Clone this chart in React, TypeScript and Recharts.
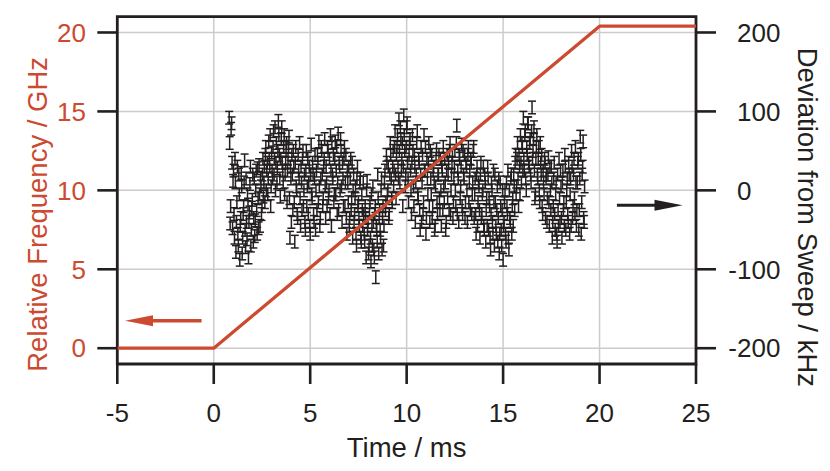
import React from 'react';
import {
  ComposedChart,
  Line,
  Scatter,
  ErrorBar,
  XAxis,
  YAxis,
  CartesianGrid,
  ReferenceLine,
  ReferenceArea,
} from 'recharts';

const RED = '#cc4a30';
const INK = '#231f20';
const GRID = '#cccccc';
const FONT = '"Liberation Sans", Arial, Helvetica, sans-serif';

// Axis ticks
const TIME_TICKS = [-5, 0, 5, 10, 15, 20, 25];
const FREQ_TICKS = [0, 5, 10, 15, 20];
const DEV_TICKS = [-200, -100, 0, 100, 200];

// Frequency sweep (left axis, GHz)
const sweepTimeMs = [-5, 0, 20, 25];
const sweepFreqGHz = [0, 0, 20.4, 20.4];

// Deviation from sweep (right axis, kHz), two interleaved sample sets, every 0.05 ms
const SAMPLE_STEP_MS = 0.05;
const SET_A_START_MS = 0.8;
const deviationKHzA = [
  92, -42, 78, 35, 12, -30, 40, -78, -15, -55, 20, -88, -35, 5, -60, -20, 38, -72, -40, -5,
  -85, -28, 30, -50, -12, -65, 15, -38, 25, -55, -10, 32, -45, 5, -20, 40, 10, -15, 55, 25,
  -5, 62, 30, -20, 48, 15, 75, 40, 0, 60, 28, 88, 45, -8, 65, 35, 10, 70, 20, 50,
  -15, 40, 68, -60, 15, 45, -25, 30, -65, 55, 0, -35, 25, 60, -45, 10, 40, -20, 20, -50,
  50, 5, -30, 30, -55, 58, -10, 20, -40, 45, 0, -25, 35, 62, -45, 15, 50, -20, 30, 65,
  -35, 10, 55, -10, 40, 70, -45, 20, 45, -5, 62, 25, -30, 72, 35, 0, 50, -40, 15, 40,
  -20, 45, -55, 10, 30, -35, 40, -10, -60, 20, -30, 5, -70, 30, -15, -45, 15, -65, -25, 10,
  -55, -20, -85, 12, -40, -70, -15, -90, -45, 5, -75, -30, -110, -50, 20, -80, -25, -60, 15, -35,
  -70, 10, -25, 45, -5, 30, -30, 60, 15, -15, 50, 25, 75, -10, 55, 30, 90, 10, 65, 40,
  -20, 95, 50, 20, 80, 35, -15, 60, 25, -30, 70, 5, 45, -40, 20, 75, -10, 35, -50, 55,
  10, -30, 70, 25, -55, 40, -5, 60, -40, 15, 45, -20, 30, -50, 5, 52, -30, 20, -10, 40,
  -45, 25, 55, -15, 10, -40, 45, 20, -25, 60, 0, 35, -35, 15, 50, -20, 82, 25, -40, 40,
  5, 58, -30, 20, 45, -15, 30, -40, 55, 10, -25, 35, -5, 50, -35, 15, -55, 30, -15, 5,
  -60, 35, -30, 0, -45, 20, -65, -10, 30, -50, -20, -75, 10, -40, 25, -70, -15, -55, 5, -35,
  -80, 10, -50, -25, -88, -40, 0, -65, -20, 25, -75, -35, 15, -55, -10, 20, -25, 45, 5, 60,
  -20, 30, 70, 10, 55, 92, 25, 75, 0, 45, 85, 30, 65, 10, 105, 50, 80, -10, 40, 70,
  15, 55, -15, 35, 45, -30, 10, 40, -35, 20, -10, 42, -45, 0, 30, -60, -20, 35, -50, 10,
  -65, -25, 40, -40, 5, -60, 25, -15, 45, -50, 0, -30, 35, -55, 15, 50, -35, 20, -10, 55,
  -45, 10, 40, -25, 68, -55, 20, 62, -40,
];
const SET_B_START_MS = 0.825;
const deviationKHzB = [
  60, -20, 85, -48, 25, -60, 10, -40, 30, -70, -5, -45, 22, -80, -30, 10, -50, 15, -62, -18,
  -40, 8, -70, -22, 20, -35, -58, 0, -25, 28, -48, -5, 15, -30, 20, -8, 30, 45, 0, 35,
  15, 40, 70, 5, 25, 55, 20, 80, 35, 10, 50, 70, 15, 40, 80, 25, 55, -5, 35, 60,
  25, 55, -10, 30, -40, 20, 50, -15, 35, 5, -30, 45, 15, -10, 30, -25, 50, 0, -40, 25,
  -20, 40, 10, -45, 20, -5, 35, -30, 15, -50, 25, 45, -15, 5, -35, 55, 20, -10, 40, 5,
  30, -20, 50, 0, -30, 25, 60, 15, -15, 40, -5, 55, 10, -25, 30, 65, 5, 35, -20, 55,
  10, -35, 25, -15, -45, 15, -25, 35, 0, -40, -10, -55, 15, -20, -35, 10, -60, -5, -45, -30,
  -65, -35, 0, -50, -80, -25, -60, -5, -70, -40, -85, -20, -45, -65, -10, -35, -50, 0, -75, -20,
  -45, 25, -15, 35, 0, -35, 20, 45, -10, 30, 5, 55, 20, 45, 70, 15, 50, 80, 25, 60,
  30, 70, 5, 55, 85, 15, 45, 65, 0, 35, 50, -20, 30, 10, 60, -5, 40, -25, 20, -40,
  45, -15, 25, 55, -35, 15, 35, -20, 50, -5, -35, 25, 10, -45, 40, -15, 20, 45, -25, 0,
  30, -25, 5, 40, -50, 25, -10, 35, 50, -30, 20, 45, -15, 30, 0, 60, -30, 15, 45, -10,
  30, -20, 50, 15, -35, 35, 0, 45, -15, 25, 40, -30, 10, 55, -5, -30, 20, -45, 10, -25,
  20, -35, -5, 30, -50, 10, -25, -45, 15, -10, -60, -30, 0, -55, -15, 20, -45, -25, -65, 15,
  -55, -20, -70, 0, -45, -15, -55, 10, -30, -60, 0, -40, 20, -20, -45, 5, 35, -5, 40, 15,
  45, -5, 35, 60, 25, 40, 70, 15, 55, 85, 35, 60, 20, 75, 40, 65, 25, -5, 55, 20,
  40, 0, 60, 20, -20, 25, -5, 35, 15, -40, 20, -15, 30, -25, 10, -40, 15, -30, -5, -55,
  20, -45, -10, 25, -35, 10, -25, -45, 30, -15, 15, -40, 20, -5, -45, 30, -20, 40, -30, 10,
  -25, 35, -50, 15, 45, -15, 30, -35, 5,
];
const ERROR_KHZ = 8;

// Annotation arrows
const freqArrow = { fromMs: -0.63, toMs: -4.6, atGHz: 1.74 };
const devArrow = { fromMs: 20.9, toMs: 24.3, atKHz: -19 };

const sweepData = sweepTimeMs.map((t, i) => ({ t, ghz: sweepFreqGHz[i] }));
const toPoints = (start: number, values: number[]) =>
  values.map((d, i) => ({ t: +(start + i * SAMPLE_STEP_MS).toFixed(3), dev: d, err: ERROR_KHZ }));
const devData = [...toPoints(SET_A_START_MS, deviationKHzA), ...toPoints(SET_B_START_MS, deviationKHzB)];

const makeArrow = (color: string, sw: number) => (p: any) => {
  const x1 = Number(p.x1), y1 = Number(p.y1), x2 = Number(p.x2), y2 = Number(p.y2);
  const dx = x2 - x1, dy = y2 - y1;
  const len = Math.hypot(dx, dy) || 1;
  const ux = dx / len, uy = dy / len;
  const HL = 28, HW = 5.5;
  const bx = x2 - ux * HL, by = y2 - uy * HL;
  return (
    <g>
      <line x1={x1} y1={y1} x2={bx + ux * 2} y2={by + uy * 2} stroke={color} strokeWidth={sw} />
      <polygon
        points={`${x2},${y2} ${bx - uy * HW},${by + ux * HW} ${bx + uy * HW},${by - ux * HW}`}
        fill={color}
      />
    </g>
  );
};

const RightTick = (props: any) => {
  const { x, y, payload } = props;
  const v = Number(payload.value);
  return (
    <g>
      <text x={x} y={y} dy="0.355em" textAnchor="start" fill={INK} fontSize={26} fontFamily={FONT}>
        {Math.abs(v)}
      </text>
      {v < 0 && (
        <text x={x} y={y} dy="0.355em" textAnchor="end" fill={INK} fontSize={26} fontFamily={FONT}>
          -
        </text>
      )}
    </g>
  );
};

const leftTitle = (props: any) => {
  const vb = props.viewBox || { x: 9.3, y: 8.7, width: 100, height: 347.3 };
  const cx = vb.x + 29.2;
  const cy = vb.y + vb.height / 2 + 24;
  return (
    <text
      transform={`translate(${cx}, ${cy}) rotate(-90)`}
      textAnchor="middle"
      fill={RED}
      fontSize={27.5}
      fontFamily={FONT}
    >
      Relative Frequency / GHz
    </text>
  );
};

const rightTitle = (props: any) => {
  const vb = props.viewBox || { x: 688, y: 8.7, width: 120, height: 347.3 };
  const cx = vb.x + 101.5;
  const cy = vb.y + vb.height / 2 + 27;
  return (
    <text
      transform={`translate(${cx}, ${cy}) rotate(90)`}
      textAnchor="middle"
      fill={INK}
      fontSize={27.5}
      fontFamily={FONT}
    >
      Deviation from Sweep / kHz
    </text>
  );
};

const bottomTitle = (props: any) => {
  const vb = props.viewBox || { x: 109.3, y: 356, width: 578.7, height: 80 };
  const cx = vb.x + vb.width / 2;
  const cy = vb.y + 93;
  return (
    <text x={cx} y={cy} textAnchor="middle" fill={INK} fontSize={27.5} fontFamily={FONT}>
      Time / ms
    </text>
  );
};

export default function App() {
  return (
    <div style={{ width: 814, height: 455, background: '#fff' }}>
      <ComposedChart
        width={814}
        height={455}
        margin={{ top: 8.7, right: 6, bottom: 19, left: 9.3 }}
        style={{ fontFamily: FONT }}
      >
        <CartesianGrid
          yAxisId="left"
          stroke={GRID}
          strokeWidth={1.5}
          horizontalValues={FREQ_TICKS}
          verticalValues={TIME_TICKS}
        />
        <XAxis
          dataKey="t"
          type="number"
          domain={[-5, 25]}
          ticks={TIME_TICKS}
          allowDataOverflow
          height={80}
          axisLine={false}
          tickLine={{ stroke: INK, strokeWidth: 2.6 }}
          tickSize={20}
          tickMargin={19.2}
          tick={{ fill: INK, fontSize: 26, fontFamily: FONT }}
          interval={0}
          label={{ content: bottomTitle }}
        />
        <YAxis
          yAxisId="left"
          orientation="left"
          type="number"
          domain={[-1, 21]}
          ticks={FREQ_TICKS}
          allowDataOverflow
          width={100}
          axisLine={false}
          tickLine={{ stroke: INK, strokeWidth: 2.6 }}
          tickSize={20}
          tickMargin={11.3}
          tick={{ fill: RED, fontSize: 26, fontFamily: FONT }}
          interval={0}
          label={{ content: leftTitle }}
        />
        <YAxis
          yAxisId="right"
          orientation="right"
          type="number"
          domain={[-220, 220]}
          ticks={DEV_TICKS}
          allowDataOverflow
          width={120}
          axisLine={false}
          tickLine={{ stroke: INK, strokeWidth: 2.6 }}
          tickSize={20}
          tickMargin={21}
          tick={<RightTick />}
          interval={0}
          label={{ content: rightTitle }}
        />
        <Scatter
          yAxisId="right"
          data={devData}
          dataKey="dev"
          isAnimationActive={false}
          shape={() => <g />}
        >
          <ErrorBar dataKey="err" direction="y" width={4} stroke={INK} strokeWidth={1.5} />
        </Scatter>
        <Line
          yAxisId="left"
          data={sweepData}
          dataKey="ghz"
          type="linear"
          stroke={RED}
          strokeWidth={3.3}
          dot={false}
          activeDot={false}
          isAnimationActive={false}
          strokeLinejoin="round"
        />
        <ReferenceLine
          yAxisId="left"
          segment={[
            { x: freqArrow.fromMs, y: freqArrow.atGHz },
            { x: freqArrow.toMs, y: freqArrow.atGHz },
          ]}
          shape={makeArrow(RED, 3.5)}
        />
        <ReferenceLine
          yAxisId="right"
          segment={[
            { x: devArrow.fromMs, y: devArrow.atKHz },
            { x: devArrow.toMs, y: devArrow.atKHz },
          ]}
          shape={makeArrow(INK, 3)}
        />
        <ReferenceArea
          yAxisId="left"
          x1={-5}
          x2={25}
          y1={-1}
          y2={21}
          fill="none"
          fillOpacity={0}
          stroke={INK}
          strokeWidth={2.8}
          ifOverflow="visible"
        />
      </ComposedChart>
    </div>
  );
}
